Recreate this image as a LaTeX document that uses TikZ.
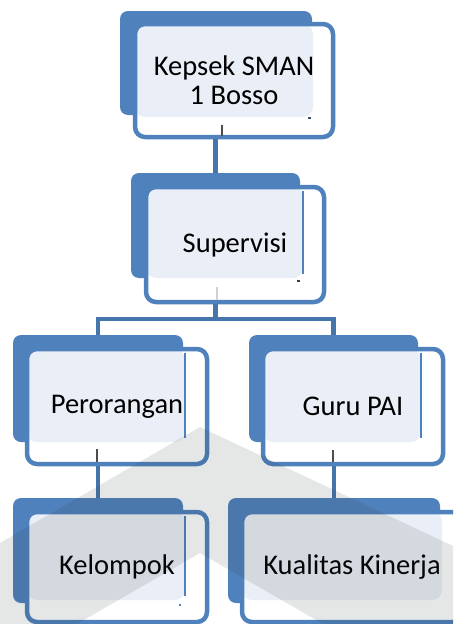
\documentclass[tikz,border=0pt]{standalone}
\usepackage{fontspec}
\setmainfont{Carlito}
\definecolor{obl}{HTML}{4F81BD}
\definecolor{olight}{HTML}{EAEFF7}
\definecolor{oconn}{HTML}{4674AD}
\definecolor{wmark}{HTML}{2F3F38}
\begin{document}
\begin{tikzpicture}[x=1pt,y=-1pt,
  backbox/.style={fill=obl, draw=none, rounded corners=8pt, inner sep=0pt, outer sep=0pt},
  frontbox/.style={draw=obl, line width=4.5pt, fill=white, rounded corners=10pt,
    inner sep=0pt, outer sep=0pt, align=center, font=\fontsize{28.5}{29}\selectfont},
  lightonly/.style 2 args={path picture={
    \fill[olight] (path picture bounding box.north west) rectangle
      ([xshift=-#1pt,yshift=#2pt]path picture bounding box.south east);}},
  lightline/.style 2 args={path picture={
    \fill[olight] (path picture bounding box.north west) rectangle
      ([xshift=-#1pt,yshift=#2pt]path picture bounding box.south east);
    \draw[obl, line width=1.3pt]
      ([xshift=-#1pt,yshift=-4pt]path picture bounding box.north east) --
      ([xshift=-#1pt,yshift=#2pt+4pt]path picture bounding box.south east);}},
  conn/.style={draw=oconn, line width=4.5pt},
  tick/.style={line width=1.5pt, draw=black!70},
]
\path[use as bounding box] (0,0) rectangle (453,624);
\clip (0,0) rectangle (453,624);
\fill[white] (0,0) rectangle (453,624);

% back boxes
\node[backbox, minimum width=192pt, minimum height=104pt] (kb) at (216,63) {};
\node[backbox, minimum width=169pt, minimum height=105pt] (sb) at (215.5,225.5) {};
\node[backbox, minimum width=170pt, minimum height=107pt] (pb) at (98,388.5) {};
\node[backbox, minimum width=169pt, minimum height=107pt] (gb) at (333.5,388.5) {};
\node[backbox, minimum width=170pt, minimum height=105pt] (kelb) at (98,550.5) {};
\node[backbox, minimum width=212pt, minimum height=105pt] (kuab) at (334,550.5) {};

% front boxes
\node[frontbox, lightonly={20}{20}, minimum width=198pt, minimum height=113pt] (k) at (234,80.5) {Kepsek SMAN\\1 Bosso};
\node[frontbox, lightline={21}{24}, minimum width=178pt, minimum height=115pt] (s) at (235,244.5) {Supervisi};
\node[frontbox, lightline={22}{22}, minimum width=180pt, minimum height=115pt] (p) at (117,406.5) {Perorangan};
\node[frontbox, lightline={22}{22}, minimum width=180pt, minimum height=115pt] (g) at (353,406.5) {Guru PAI};
\node[frontbox, lightline={22}{22}, minimum width=180pt, minimum height=110pt] (kel) at (117,567) {Kelompok};
\node[frontbox, lightonly={20}{22}, minimum width=220pt, minimum height=110pt] (kua) at (352,567) {Kualitas Kinerja};

% connectors
\coordinate (bar) at (0,319);
\draw[conn] ([yshift=-2.25pt]k.south -| sb.north) -- (sb.north);
\draw[conn] ([yshift=-2.25pt]s.south -| sb.south) -- (sb.south |- bar);
\draw[conn] (pb.north) -- (pb.north |- bar) -- (gb.north |- bar) -- (gb.north);
\draw[conn] ([yshift=-2.25pt]p.south -| kelb.north) -- (kelb.north);
\draw[conn] ([yshift=-2.25pt]g.south -| kuab.north) -- (kuab.north);

% small marks inside boxes
\draw[tick] (222,125) -- (222,136);
\draw[line width=2pt, draw=black!18] (217,287) -- (217,300);
\draw[tick] (97,449) -- (97,462);
\draw[tick] (333,450) -- (333,462);
\fill[obl!60!black] (308,117) rectangle (311,119);
\fill[black!75] (297,280) rectangle (300,282);
\fill[obl] (179,604) rectangle (181,606);

% watermark
\fill[wmark, opacity=0.12] (0,543) -- (200,427) -- (453,546) -- (453,624) -- (323,624) -- (200,553) -- (77,624) -- (0,624) -- cycle;
\end{tikzpicture}
\end{document}
